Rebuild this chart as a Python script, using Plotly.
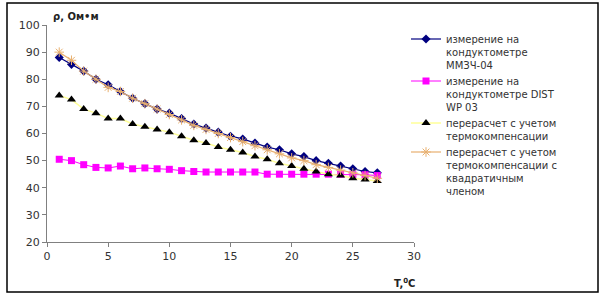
import plotly.graph_objects as go

T = list(range(1, 28))
s_mmzch = [88, 85.5, 83, 80, 78, 75.5, 73, 71, 69, 67.5, 65.5, 63.5, 62, 60.5, 59, 58,
           56.5, 55, 54, 52.5, 51.5, 50, 49, 48, 47, 46, 45.5]
s_dist = [50.5, 50, 48.5, 47.5, 47.3, 48, 47, 47.3, 47, 46.8, 46.3, 46, 45.8, 45.8, 45.8,
          45.8, 45.8, 45, 45, 45, 45, 45, 45, 45, 44.8, 44.8, 44.5]
s_comp = [74, 72.5, 69, 67.5, 65.5, 65.5, 63.5, 62.5, 61.5, 60.5, 59, 57.5, 56.5, 55, 54,
          53, 51.5, 50.5, 49, 48, 47, 46, 45, 44.5, 43.5, 43, 42.5]
s_quad = [90, 87, 83, 80, 77, 75.5, 73, 71, 69, 67, 65, 63, 61.5, 60, 58.5, 57, 55.5, 54,
          52.5, 51, 50, 48.5, 47.5, 46.5, 45.5, 44.5, 43.5]

names = [
    "измерение на<br>кондуктометре<br>ММЗЧ-04",
    "измерение на<br>кондуктометре DIST<br>WP 03",
    "перерасчет с учетом<br>термокомпенсации",
    "перерасчет с учетом<br>термокомпенсации с<br>квадратичным<br>членом",
]
x_ticks = [0, 5, 10, 15, 20, 25, 30]
y_ticks = [20, 30, 40, 50, 60, 70, 80, 90, 100]

FONT = "DejaVu Sans, Arial"

fig = go.Figure()
fig.add_trace(go.Scatter(x=T, y=s_mmzch, name=names[0], mode="lines+markers",
                         line=dict(color="#000080", width=1.2),
                         marker=dict(symbol="diamond", size=7, color="#000080")))
fig.add_trace(go.Scatter(x=T, y=s_dist, name=names[1], mode="lines+markers",
                         line=dict(color="#FF00FF", width=1),
                         marker=dict(symbol="square", size=7, color="#FF00FF")))
fig.add_trace(go.Scatter(x=T, y=s_comp, name=names[2], mode="lines+markers",
                         line=dict(color="#FFFF99", width=1.5),
                         marker=dict(symbol="triangle-up", size=8, color="#000000")))
fig.add_trace(go.Scatter(x=T, y=s_quad, name=names[3], mode="lines+markers",
                         line=dict(color="#E8B070", width=1.2),
                         marker=dict(symbol="asterisk-open", size=8,
                                     line=dict(color="#F0A050", width=1))))

axis_common = dict(showgrid=False, zeroline=False, showline=True, linecolor="#808080",
                   linewidth=1, ticks="outside", ticklen=4, tickcolor="#808080",
                   automargin=False,
                   tickfont=dict(family=FONT, size=11, color="#333333"))
fig.update_xaxes(range=[0, 30], tickvals=x_ticks, **axis_common)
fig.update_yaxes(range=[20, 100], tickvals=y_ticks, **axis_common)

L, R, TOP, B = 47, 192, 25, 56
PW = 606 - L - R
PH = 298 - TOP - B

def px(xp):
    return (xp - L) / PW

def py(yp):
    return (298 - B - yp) / PH

fig.add_shape(type="rect", xref="paper", yref="paper",
              x0=px(7), x1=px(598), y0=py(292), y1=py(3),
              line=dict(color="#000000", width=1.5))

fig.add_annotation(xref="paper", yref="paper", x=px(51), y=py(17), xanchor="left",
                   yanchor="middle", showarrow=False, text="<b>ρ, Ом•м</b>",
                   font=dict(family=FONT, size=10, color="#222222"))
fig.add_annotation(xref="paper", yref="paper", x=px(392), y=py(283), xanchor="left",
                   yanchor="middle", showarrow=False, text="<b>T,<sup>0</sup>C</b>",
                   font=dict(family=FONT, size=10, color="#222222"))

fig.update_layout(
    width=606, height=298,
    margin=dict(l=L, r=R, t=TOP, b=B, autoexpand=False),
    paper_bgcolor="white", plot_bgcolor="white",
    showlegend=True,
    legend=dict(xref="container", yref="container", x=406 / 606, y=1 - 26 / 298,
                xanchor="left", yanchor="top", valign="top", maxheight=280,
                font=dict(family=FONT, size=10, color="#333333"),
                tracegroupgap=9, itemwidth=30, bgcolor="rgba(0,0,0,0)"),
)

fig.write_html("out.html", config={"displayModeBar": False},
               post_script="document.body.style.margin='0';document.body.style.overflow='hidden';")
